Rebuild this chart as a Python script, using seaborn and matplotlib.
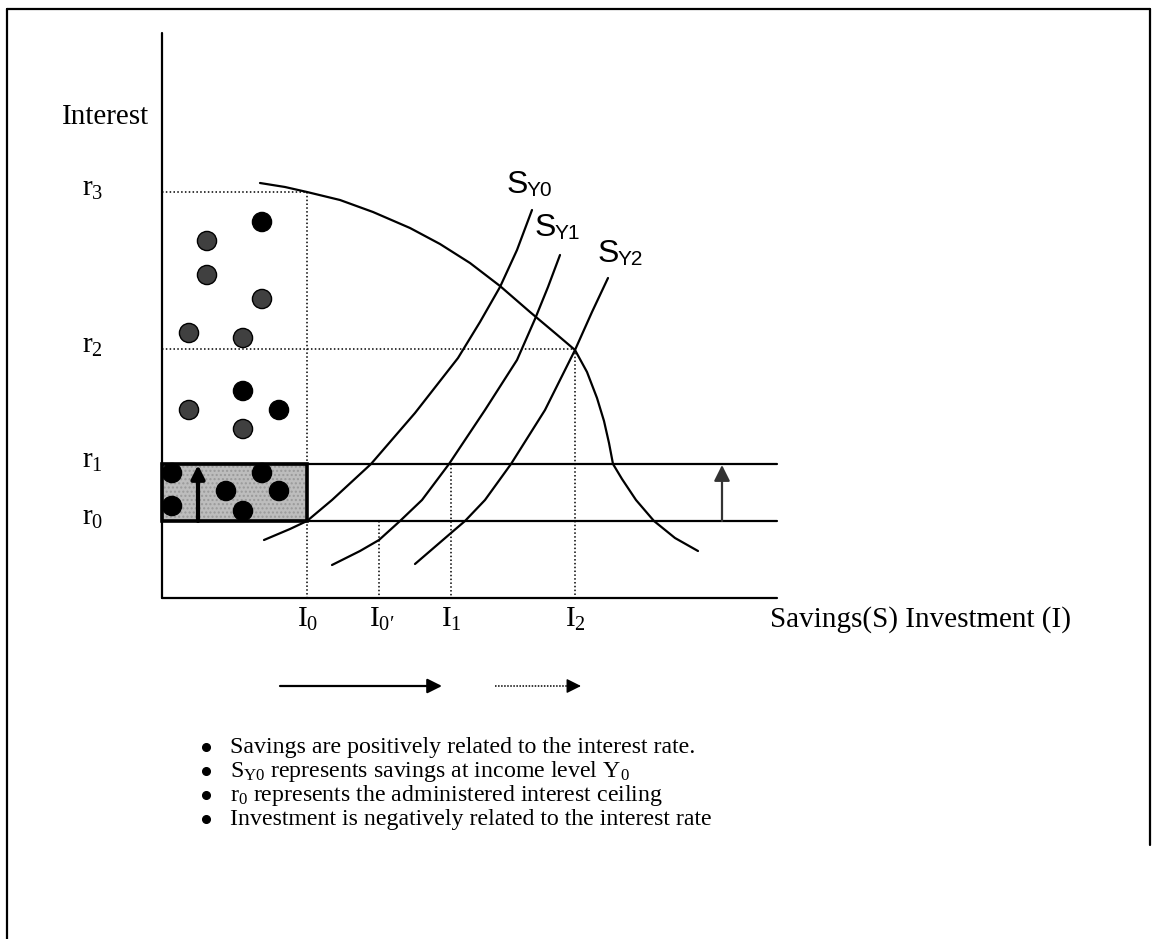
import numpy as np
import pandas as pd
import matplotlib
matplotlib.use("Agg")
import matplotlib.pyplot as plt
import seaborn as sns

sns.set_theme(style="white")
plt.rcParams['font.family'] = ['Liberation Serif', 'DejaVu Serif']
plt.rcParams['text.color'] = 'black'
plt.rcParams['mathtext.fontset'] = 'custom'
plt.rcParams['mathtext.rm'] = 'Liberation Serif'
plt.rcParams['mathtext.it'] = 'Liberation Serif:italic'
plt.rcParams['mathtext.sf'] = 'Liberation Sans'

# ---------------- data (pixel-space diagram coordinates) ----------------
rate_labels = ['r$_3$', 'r$_2$', 'r$_1$', 'r$_0$']
rate_y = [192, 349, 464, 521]

inv_labels = ['I$_0$', "I$_{0\u2032}$", 'I$_1$', 'I$_2$']
inv_x = [307, 379, 451, 575]

# savings curves
sy0_x = [264, 290, 307, 332, 371, 415, 458, 480, 500, 517, 532]
sy0_y = [540, 529, 521, 500, 464, 413, 358, 322, 287, 250, 210]
sy1_x = [332, 360, 379, 400, 422, 449, 485, 517, 535, 548, 560]
sy1_y = [565, 551, 540, 521, 500, 464, 410, 360, 319, 287, 255]
sy2_x = [415, 451, 465, 485, 511, 545, 575, 592, 608]
sy2_y = [564, 533, 521, 500, 464, 410, 350, 312, 278]
sy_labels = ['Y0', 'Y1', 'Y2']
sy_label_x = [507, 535, 598]
sy_label_y = [193, 236, 262]

# investment curve
inv_curve_x = [260, 285, 307, 340, 373, 410, 440, 470, 500, 530, 555, 575, 587,
               597, 604, 609, 613, 622, 636, 654, 675, 698]
inv_curve_y = [183, 187, 192, 200, 212, 228, 244, 263, 286, 312, 333, 350, 372,
               398, 421, 443, 464, 479, 500, 521, 538, 551]

# dots
dot_x = [262, 207, 207, 262, 189, 243, 243, 189, 279, 243, 172, 172, 226, 243, 262, 279]
dot_y = [222, 241, 275, 299, 333, 338, 391, 410, 410, 429, 473, 506, 491, 511, 473, 491]
dot_tone = ['black', 'gray', 'gray', 'gray', 'gray', 'gray',
            'black', 'gray', 'black', 'gray',
            'black', 'black', 'black', 'black', 'black', 'black']

bullets = [
    "Savings are positively related to the interest rate.",
    "S$_{\\mathrm{Y0}}$ represents savings at income level Y$_0$",
    "r$_0$ represents the administered interest ceiling",
    "Investment is negatively related to the interest rate",
]

# ---------------- figure ----------------
W, H = 1158, 939
fig = plt.figure(figsize=(W / 100, H / 100), dpi=100)
ax = fig.add_axes([0, 0, 1, 1])

# outer frame
ax.plot([7, 7], [9, H], color='black', lw=1.6)
ax.plot([7, 1150], [9, 9], color='black', lw=1.6)
ax.plot([1150, 1150], [9, 845], color='black', lw=1.6)

x_axis_y = 598
y_axis_x = 162
axis_right = 777

# axes
ax.plot([y_axis_x, y_axis_x], [33, x_axis_y], color='black', lw=1.6)
ax.plot([y_axis_x, axis_right], [x_axis_y, x_axis_y], color='black', lw=1.6)

# r0 and r1 solid lines
for yy in rate_y[2:]:
    ax.plot([y_axis_x, axis_right], [yy, yy], color='black', lw=1.6)

# dotted guide lines
dot_kw = dict(color='black', lw=1.1, ls=(0, (1, 1.5)))
ax.plot([y_axis_x, inv_x[0]], [rate_y[0], rate_y[0]], **dot_kw)
ax.plot([inv_x[0], inv_x[0]], [rate_y[0], x_axis_y], **dot_kw)
ax.plot([y_axis_x, inv_x[3]], [rate_y[1], rate_y[1]], **dot_kw)
ax.plot([inv_x[3], inv_x[3]], [rate_y[1], x_axis_y], **dot_kw)
ax.plot([inv_x[1], inv_x[1]], [rate_y[3], x_axis_y], **dot_kw)
ax.plot([inv_x[2], inv_x[2]], [rate_y[2], x_axis_y], **dot_kw)

# shaded box
ax.add_patch(plt.Rectangle((y_axis_x, rate_y[2]), inv_x[0] - y_axis_x, rate_y[3] - rate_y[2],
                           facecolor='#bdbdbd', edgecolor='none', zorder=1))
ax.add_patch(plt.Rectangle((y_axis_x, rate_y[2]), inv_x[0] - y_axis_x, rate_y[3] - rate_y[2],
                           facecolor='none', edgecolor='#9a9a9a', hatch='....', lw=0, zorder=1.5))
ax.add_patch(plt.Rectangle((y_axis_x, rate_y[2]), inv_x[0] - y_axis_x, rate_y[3] - rate_y[2],
                           facecolor='none', edgecolor='black', lw=2.6, zorder=4))

# dots
dots = pd.DataFrame({'x': dot_x, 'y': dot_y, 'tone': dot_tone})
sns.scatterplot(data=dots, x='x', y='y', hue='tone',
                palette={'black': 'black', 'gray': '#404040'},
                s=190, edgecolor='black', linewidth=1.0, legend=False, ax=ax, zorder=3)

# curves
for cx, cy in [(sy0_x, sy0_y), (sy1_x, sy1_y), (sy2_x, sy2_y), (inv_curve_x, inv_curve_y)]:
    sns.lineplot(x=cx, y=cy, sort=False, estimator=None, color='black', lw=1.6, ax=ax)

ax.set_xlim(0, W)
ax.set_ylim(H, 0)
ax.axis('off')

# arrows
ax.annotate('', xy=(198, rate_y[2] + 1), xytext=(198, rate_y[3]),
            arrowprops=dict(arrowstyle='-|>', lw=3, color='black', mutation_scale=20,
                            shrinkA=0, shrinkB=0), zorder=5)
ax.annotate('', xy=(722, rate_y[2] + 1), xytext=(722, rate_y[3]),
            arrowprops=dict(arrowstyle='-|>', lw=1.6, color='#333333', mutation_scale=24,
                            shrinkA=0, shrinkB=0))
ax.annotate('', xy=(442, 686), xytext=(280, 686),
            arrowprops=dict(arrowstyle='-|>', lw=1.6, color='black', mutation_scale=22,
                            shrinkA=0, shrinkB=0))
ax.plot([495, 572], [686, 686], color='black', lw=1.1, ls=(0, (1, 1)))
ax.annotate('', xy=(581, 686), xytext=(570, 686),
            arrowprops=dict(arrowstyle='-|>', lw=1.0, color='black', mutation_scale=22,
                            shrinkA=0, shrinkB=0))

# text
fs = 21
ax.text(62, 124, 'Interest', fontsize=fs, va='baseline', ha='left')
for lab, yy in zip(rate_labels, rate_y):
    ax.text(82, yy + 4, lab, fontsize=fs, va='baseline', ha='left')
for lab, xx in zip(inv_labels, inv_x):
    ax.text(xx - 10, 627, lab, fontsize=fs, va='baseline', ha='left')
ax.text(770, 627, 'Savings(S) Investment (I)', fontsize=fs, va='baseline', ha='left')

for lab, xx, yy in zip(sy_labels, sy_label_x, sy_label_y):
    ax.text(xx, yy, 'S', fontsize=23, va='baseline', ha='left', family='Liberation Sans')
    ax.text(xx + 20, yy + 3, lab, fontsize=15, va='baseline', ha='left', family='Liberation Sans')

by = [753, 777, 801, 825]
for t, yy in zip(bullets, by):
    ax.plot([206], [yy - 6], marker='o', ms=5.5, color='black', ls='none')
    ax.text(230, yy, t, fontsize=17.2, va='baseline', ha='left')

fig.savefig('out.png', dpi=100)
